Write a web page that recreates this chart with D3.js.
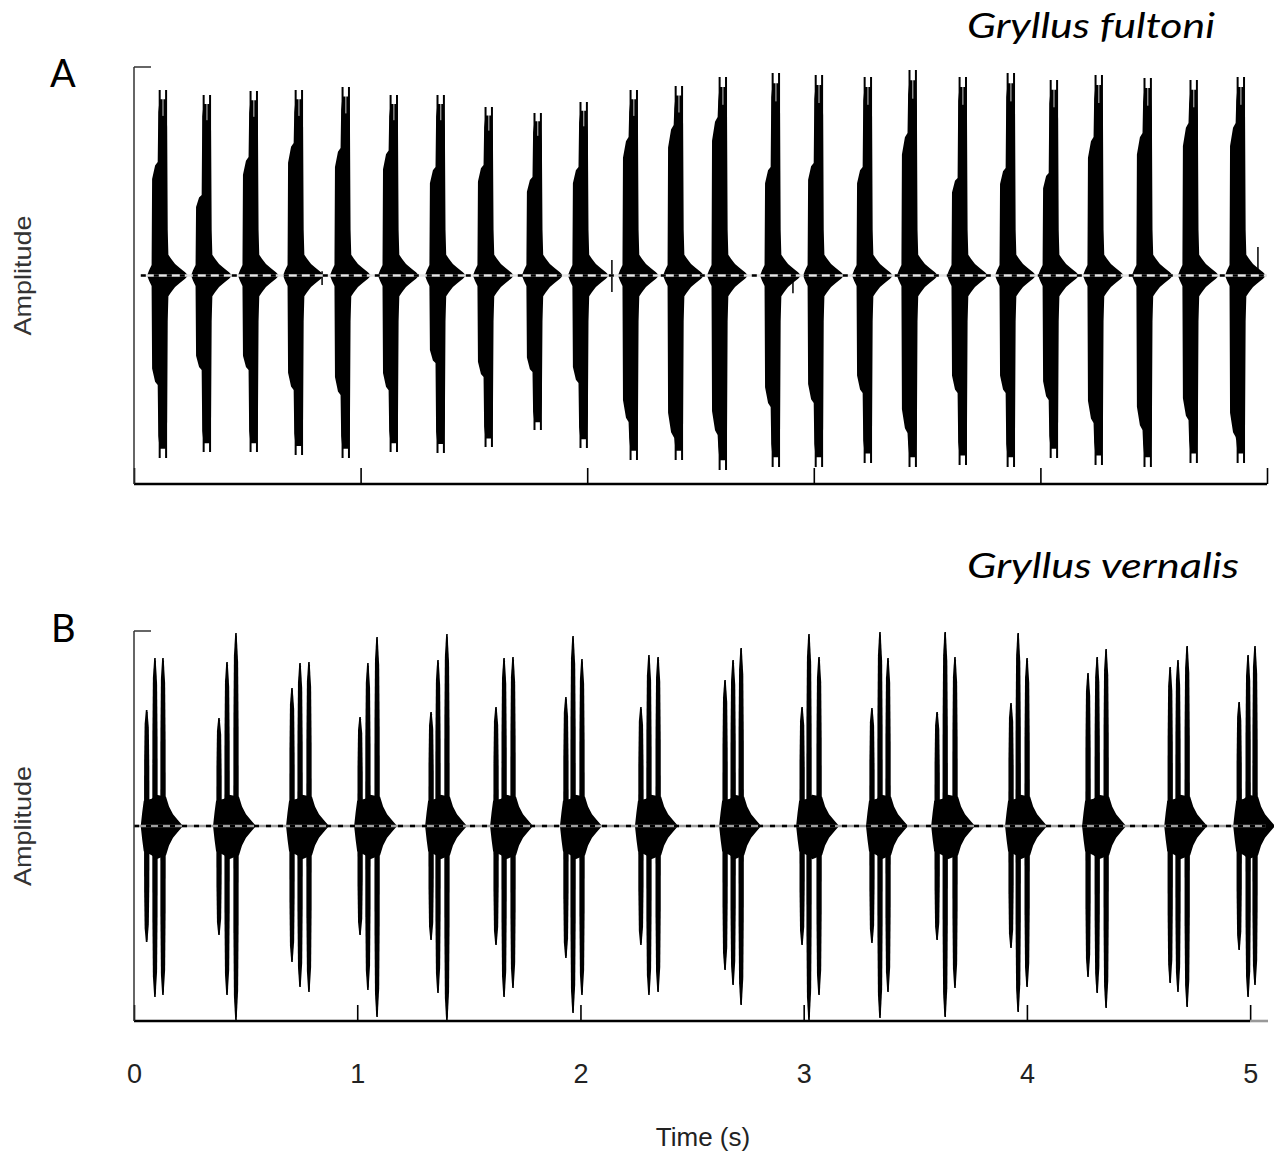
<!DOCTYPE html>
<html><head><meta charset="utf-8">
<script src="https://cdn.jsdelivr.net/npm/d3@7"></script>
<style>body{margin:0;background:#fff} svg{display:block}</style>
</head><body><svg id="c" width="1274" height="1153"></svg>
<script>
// ---------- Panel A: Gryllus fultoni (single pulses) ----------
const pulseTimesA = [0.124,0.318,0.525,0.724,0.931,1.143,1.350,1.562,1.778,1.981,2.202,2.401,2.595,2.829,3.019,3.235,3.433,3.654,3.866,4.056,4.254,4.470,4.673,4.881];
const peakTopA    = [0.89,0.866,0.885,0.89,0.904,0.866,0.866,0.808,0.779,0.832,0.89,0.909,0.952,0.971,0.962,0.952,0.986,0.952,0.971,0.938,0.962,0.947,0.938,0.952];
const peakBotA    = [-0.875,-0.847,-0.847,-0.861,-0.875,-0.847,-0.851,-0.823,-0.741,-0.827,-0.885,-0.885,-0.933,-0.918,-0.918,-0.899,-0.918,-0.909,-0.918,-0.875,-0.909,-0.918,-0.899,-0.899];
const shoulderTopA= [0.544,0.386,0.568,0.636,0.612,0.60,0.52,0.53,0.472,0.52,0.664,0.722,0.76,0.52,0.54,0.52,0.683,0.468,0.516,0.492,0.664,0.683,0.731,0.731];
const shoulderBotA= [-0.525,-0.453,-0.453,-0.549,-0.573,-0.55,-0.42,-0.487,-0.463,-0.516,-0.703,-0.775,-0.765,-0.631,-0.612,-0.564,-0.755,-0.564,-0.564,-0.597,-0.707,-0.741,-0.693,-0.775];
const blipTimesA = [0.83,2.109,2.908,4.96];
const blipTopA   = [0.02,0.074,0.02,0.137];
const blipBotA   = [-0.045,-0.079,-0.085,-0.03];

// ---------- Panel B: Gryllus vernalis (3-pulse chirps) ----------
const pulsesPerChirpB = 3;
const pulseTimesB = [0.057,0.094,0.130, 0.381,0.417,0.457, 0.708,0.744,0.784, 1.013,1.048,1.089,
  1.331,1.362,1.402, 1.622,1.658,1.698, 1.935,1.967,2.007, 2.271,2.307,2.348,
  2.648,2.684,2.720, 2.993,3.024,3.069, 3.306,3.342,3.378, 3.598,3.634,3.678,
  3.929,3.961,4.001, 4.274,4.315,4.355, 4.642,4.677,4.718, 4.951,4.991,5.022];
const peakTopB = [0.595,0.862,0.862, 0.554,0.841,0.990, 0.708,0.836,0.841, 0.559,0.836,0.969,
  0.585,0.851,0.985, 0.610,0.862,0.867, 0.662,0.974,0.856, 0.610,0.877,0.867,
  0.749,0.851,0.913, 0.610,0.985,0.867, 0.605,0.995,0.862, 0.585,0.995,0.867,
  0.631,0.990,0.862, 0.785,0.867,0.908, 0.815,0.851,0.923, 0.636,0.877,0.923];
const peakBotB = [-0.595,-0.877,-0.867, -0.559,-0.867,-0.995, -0.697,-0.826,-0.851, -0.559,-0.841,-0.979,
  -0.585,-0.856,-1.0, -0.610,-0.877,-0.831, -0.677,-0.959,-0.867, -0.610,-0.867,-0.851,
  -0.738,-0.815,-0.918, -0.610,-0.995,-0.867, -0.600,-0.985,-0.851, -0.585,-0.979,-0.831,
  -0.626,-0.954,-0.826, -0.774,-0.856,-0.933, -0.805,-0.851,-0.928, -0.636,-0.877,-0.815];

const timeTicks = [0,1,2,3,4,5];
const titleA = "Gryllus fultoni", titleB = "Gryllus vernalis";

// ---------- drawing ----------
const svg = d3.select('#c');
const font = "'Liberation Sans', Arial, sans-serif";

const xA = d3.scaleLinear().domain([0,5]).range([134,1267]);
const yA = d3.scaleLinear().domain([-1,1]).range([484,67]);
const xB = d3.scaleLinear().domain([0,5.08]).range([134,1268]);
const yB = d3.scaleLinear().domain([-1,1]).range([1021,631]);

function areaGen(x,y){
  return d3.area().x(d=>x(d[0])).y0(d=>y(d[2])).y1(d=>y(d[1])).curve(d3.curveLinear);
}

// ---- Panel A pulses ----
const gA = svg.append('g');
const spA = 1/(xA(1)-xA(0)); // seconds per pixel
const aA = areaGen(xA,yA);
pulseTimesA.forEach((t,i)=>{
  const T=peakTopA[i], B=peakBotA[i], S=shoulderTopA[i], L=shoulderBotA[i];
  const pts = [
    [-15,0,0],[-13,0.025,-0.025],[-10.5,0.05,-0.05],[-10,S*0.85,L*0.85],[-7,S*0.97,L*0.97],[-4.4,S,L],
    [-3.8,T*0.88,B*0.88],[-2.5,T*0.95,B*0.95],[3.8,T*0.95,B*0.95],[5.0,T*0.8,B*0.8],
    [5.6,0.22,-0.22],[6.3,0.1,-0.1],[9,0.08,-0.08],[13,0.055,-0.055],[18,0.035,-0.035],[23,0.015,-0.015],[26,0,0]
  ].map(p=>[t+p[0]*spA,p[1],p[2]]);
  gA.append('path').attr('d',aA(pts)).attr('fill','#000');
  [-2.4,4.0].forEach(o=>{
    gA.append('line').attr('x1',xA(t+o*spA)).attr('x2',xA(t+o*spA))
      .attr('y1',yA(T)).attr('y2',yA(B)).attr('stroke','#000').attr('stroke-width',2);
  });
  gA.append('line').attr('x1',xA(t+0.9*spA)).attr('x2',xA(t+0.9*spA))
    .attr('y1',yA(T*0.99)).attr('y2',yA(T*0.86)).attr('stroke','#fff').attr('stroke-width',0.8);
});
blipTimesA.forEach((t,i)=>{
  gA.append('line').attr('x1',xA(t)).attr('x2',xA(t)).attr('y1',yA(blipTopA[i])).attr('y2',yA(blipBotA[i]))
    .attr('stroke','#000').attr('stroke-width',1.5);
});
gA.append('line').attr('x1',xA(0.03)).attr('x2',xA(5)).attr('y1',yA(0)).attr('y2',yA(0))
  .attr('stroke','#e4e4e4').attr('stroke-width',2.4);
gA.append('line').attr('x1',xA(0.03)).attr('x2',xA(5)).attr('y1',yA(0)).attr('y2',yA(0))
  .attr('stroke','#000').attr('stroke-width',2.4).attr('stroke-dasharray','5,8');

// ---- Panel B chirps ----
const gB = svg.append('g');
const spB = 1/(xB(1)-xB(0));
const aB = areaGen(xB,yB);
for(let c=0;c<pulseTimesB.length;c+=pulsesPerChirpB){
  const t1=pulseTimesB[c], t3=pulseTimesB[c+pulsesPerChirpB-1];
  const w=(t3-t1)/spB;
  const blob=[[-6,0,0],[-4.5,0.07,-0.07],[-3,0.13,-0.13],[w*0.3,0.14,-0.15],[w*0.6,0.16,-0.17],
    [w+3,0.15,-0.15],[w+6,0.1,-0.1],[w+10,0.06,-0.06],
    [w+15,0.03,-0.03],[w+20,0,0]].map(p=>[t1+p[0]*spB,p[1],p[2]]);
  gB.append('path').attr('d',aB(blob)).attr('fill','#000');
}
pulseTimesB.forEach((t,i)=>{
  const T=peakTopB[i], B=peakBotB[i];
  const pts=[[-2.7,0.05,-0.05],[-2.6,T*0.55,B*0.55],[-2.1,T*0.88,B*0.88],[-0.8,T,B],
    [0.8,T*0.98,B*0.98],[2.1,T*0.85,B*0.85],[2.6,T*0.5,B*0.5],[2.7,0.05,-0.05]].map(p=>[t+p[0]*spB,p[1],p[2]]);
  gB.append('path').attr('d',aB(pts)).attr('fill','#000');
  gB.append('line').attr('x1',xB(t)).attr('x2',xB(t)).attr('y1',yB(T)).attr('y2',yB(B))
    .attr('stroke','#000').attr('stroke-width',1.6);
});
gB.append('line').attr('x1',xB(0)).attr('x2',xB(5.07)).attr('y1',yB(0)).attr('y2',yB(0))
  .attr('stroke','#a0a0a0').attr('stroke-width',2.4);
gB.append('line').attr('x1',xB(0)).attr('x2',xB(5.07)).attr('y1',yB(0)).attr('y2',yB(0))
  .attr('stroke','#000').attr('stroke-width',2.4).attr('stroke-dasharray','5,7');

// ---- axes ----
function drawAxes(x,y,xEnd,labels){
  const ax = d3.axisBottom(x).tickValues(timeTicks).tickSizeInner(-16).tickSizeOuter(0)
    .tickPadding(43).tickFormat(labels ? d3.format('d') : '');
  const g = svg.append('g').attr('transform',`translate(0,${y(-1)})`).call(ax);
  g.select('.domain').remove();
  g.selectAll('.tick line').attr('stroke','#000').attr('stroke-width',1.6);
  g.selectAll('.tick text').attr('font-family',font).attr('font-size',27).attr('fill','#222');
  svg.append('line').attr('x1',x(0)).attr('x2',x(5)).attr('y1',y(-1)).attr('y2',y(-1))
    .attr('stroke','#000').attr('stroke-width',2.6);
  if(xEnd>5) svg.append('line').attr('x1',x(5)).attr('x2',x(xEnd)).attr('y1',y(-1)).attr('y2',y(-1))
    .attr('stroke','#999').attr('stroke-width',2.6);
  svg.append('line').attr('x1',x(0)).attr('x2',x(0)).attr('y1',y(1)).attr('y2',y(-1))
    .attr('stroke','#333').attr('stroke-width',1.5);
  svg.append('line').attr('x1',x(0)).attr('x2',x(0)+17).attr('y1',y(1)).attr('y2',y(1))
    .attr('stroke','#333').attr('stroke-width',1.5);
  svg.append('text').attr('transform',`translate(31,${y(0)}) rotate(-90)`)
    .attr('text-anchor','middle').attr('font-family',font).attr('font-size',24).attr('fill','#333')
    .attr('textLength',120).attr('lengthAdjust','spacingAndGlyphs').text('Amplitude');
}
drawAxes(xA,yA,5,false);
drawAxes(xB,yB,5.08,true);

svg.append('text').attr('x',703).attr('y',1146).attr('text-anchor','middle')
  .attr('font-family',font).attr('font-size',26).attr('fill','#222').text('Time (s)');

const tf = "Lato, 'Open Sans', sans-serif";
svg.append('text').attr('x',50).attr('y',87).attr('font-family',tf).attr('font-size',38).attr('fill','#000').text('A');
svg.append('text').attr('x',51).attr('y',642).attr('font-family',tf).attr('font-size',38).attr('fill','#000').text('B');
svg.append('text').attr('x',967).attr('y',38).attr('font-family',tf).attr('font-style','italic')
  .attr('font-size',34).attr('textLength',248).attr('lengthAdjust','spacingAndGlyphs').attr('fill','#000').text(titleA);
svg.append('text').attr('x',967).attr('y',578).attr('font-family',tf).attr('font-style','italic')
  .attr('font-size',34).attr('textLength',272).attr('lengthAdjust','spacingAndGlyphs').attr('fill','#000').text(titleB);
</script></body></html>
